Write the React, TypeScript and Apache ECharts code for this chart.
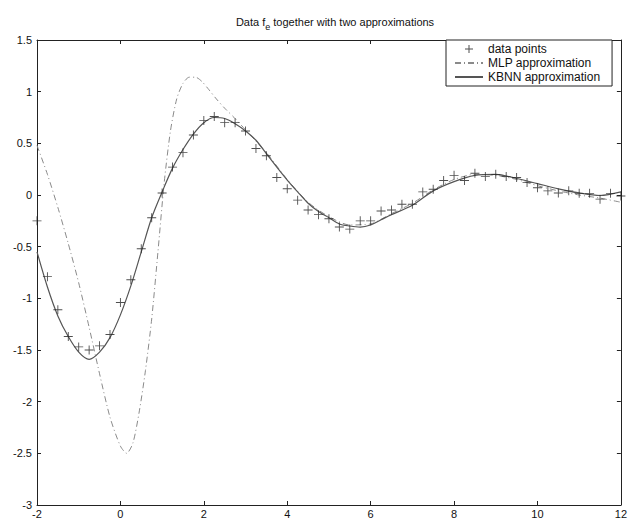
import React, { useEffect, useRef } from "react";
import * as echarts from "echarts";

// Axis ranges / ticks
const xMin = -2;
const xMax = 12;
const xStep = 2;
const yMin = -3;
const yMax = 1.5;
const yStep = 0.5;

// Data points (+ markers)
const dataX = [
  -2, -1.75, -1.5, -1.25, -1, -0.75, -0.5, -0.25, 0, 0.25, 0.5, 0.75, 1, 1.25, 1.5, 1.75,
  2, 2.25, 2.5, 2.75, 3, 3.25, 3.5, 3.75, 4, 4.25, 4.5, 4.75, 5, 5.25, 5.5, 5.75,
  6, 6.25, 6.5, 6.75, 7, 7.25, 7.5, 7.75, 8, 8.25, 8.5, 8.75, 9, 9.25, 9.5, 9.75,
  10, 10.25, 10.5, 10.75, 11, 11.25, 11.5, 11.75, 12,
];
const dataY = [
  -0.25, -0.79, -1.11, -1.37, -1.47, -1.5, -1.46, -1.35, -1.04, -0.82, -0.52, -0.22, 0.02, 0.27, 0.41, 0.58,
  0.72, 0.76, 0.7, 0.7, 0.62, 0.45, 0.38, 0.17, 0.06, -0.05, -0.145, -0.19, -0.23, -0.31, -0.33, -0.25,
  -0.25, -0.155, -0.145, -0.09, -0.09, 0.03, 0.055, 0.14, 0.19, 0.14, 0.21, 0.18, 0.2, 0.18, 0.17, 0.12,
  0.07, 0.04, 0.02, 0.04, 0.016, 0.016, -0.04, 0.016, -0.01,
];

// MLP approximation (dash-dot)
const mlpX = [
  -2, -1.75, -1.5, -1.25, -1, -0.75, -0.5, -0.25, 0, 0.15, 0.3, 0.45, 0.6, 0.75, 0.9, 1.05,
  1.2, 1.35, 1.5, 1.65, 1.8, 1.95, 2.1, 2.3, 2.5, 2.75, 3, 3.5, 4, 4.5, 5, 5.5, 6, 6.5,
  7, 7.5, 8, 8.5, 9, 9.5, 10, 10.5, 11, 11.5, 12,
];
const mlpY = [
  0.48, 0.2, -0.12, -0.47, -0.85, -1.28, -1.73, -2.15, -2.43, -2.5, -2.4, -2.1, -1.7, -1.2, -0.55, 0.12,
  0.62, 0.93, 1.08, 1.14, 1.14, 1.1, 1.03, 0.93, 0.84, 0.74, 0.63, 0.41, 0.15, -0.07, -0.21, -0.29, -0.28, -0.18,
  -0.08, 0.05, 0.15, 0.2, 0.19, 0.15, 0.09, 0.04, 0.0, -0.03, -0.07,
];

// KBNN approximation (solid)
const kbnnX = [
  -2, -1.75, -1.5, -1.25, -1, -0.75, -0.5, -0.25, 0, 0.25, 0.5, 0.75, 1, 1.25, 1.5, 1.75,
  2, 2.25, 2.5, 2.75, 3, 3.25, 3.5, 3.75, 4, 4.25, 4.5, 4.75, 5, 5.25, 5.5, 5.75,
  6, 6.25, 6.5, 7, 7.5, 8, 8.5, 9, 9.5, 10, 10.5, 11, 11.5, 12,
];
const kbnnY = [
  -0.55, -0.89, -1.17, -1.37, -1.52, -1.59, -1.52, -1.38, -1.16, -0.88, -0.55, -0.22, 0.03, 0.26, 0.44, 0.59,
  0.7, 0.75, 0.74, 0.69, 0.62, 0.53, 0.4, 0.27, 0.145, 0.03, -0.08, -0.16, -0.22, -0.28, -0.3, -0.31,
  -0.29, -0.24, -0.19, -0.1, 0.04, 0.13, 0.19, 0.2, 0.16, 0.11, 0.06, 0.02, -0.005, 0.03,
];

const FONT = "'Liberation Sans', Arial, Helvetica, sans-serif";
const PLUS = "path://M4.5,0L5.5,0L5.5,4.5L10,4.5L10,5.5L5.5,5.5L5.5,10L4.5,10L4.5,5.5L0,5.5L0,4.5L4.5,4.5Z";
const LEGEND_PLUS =
  "path://M0,0L0.01,0L0,0.01Z M28,12L27.99,12L28,11.99Z M13.5,2L14.5,2L14.5,5.5L18,5.5L18,6.5L14.5,6.5L14.5,10L13.5,10L13.5,6.5L10,6.5L10,5.5L13.5,5.5Z";
const MLP_COLOR = "#8a8a8a";
const KBNN_COLOR = "#555";
const DATA_COLOR = "#222";

function pairs(xs: number[], ys: number[]) {
  return xs.map((x, i) => [x, ys[i]]);
}

export default function App() {
  const ref = useRef<HTMLDivElement>(null);
  useEffect(() => {
    document.body.style.margin = "0";
    const chart = echarts.init(ref.current!, null, { renderer: "svg" });
    const axisCommon = {
      axisLine: { show: true, onZero: false, lineStyle: { color: "#222", width: 1 } },
      axisTick: { show: true, inside: true, length: 4, lineStyle: { color: "#222" } },
      splitLine: { show: false },
    };
    chart.setOption({
      animation: false,
      backgroundColor: "#fff",
      textStyle: { fontFamily: FONT },
      title: {
        text: "Data f{sub|e} together with two approximations",
        left: 330,
        top: 8,
        textAlign: "center",
        textStyle: {
          fontFamily: FONT,
          fontSize: 11,
          fontWeight: "normal",
          color: "#111",
          rich: {
            sub: { fontFamily: FONT, fontSize: 9, color: "#111", padding: [9, 0, 0, 0] },
          },
        },
      },
      legend: {
        orient: "vertical",
        left: 446,
        top: 40,
        padding: [3, 12, 3, 8],
        itemGap: 2,
        itemWidth: 28,
        itemHeight: 12,
        backgroundColor: "#fff",
        borderColor: "#222",
        borderWidth: 1,
        borderRadius: 0,
        textStyle: { fontFamily: FONT, fontSize: 12, color: "#111" },
        data: [
          { name: "data points", icon: LEGEND_PLUS, itemStyle: { color: DATA_COLOR } },
          { name: "MLP approximation", itemStyle: { opacity: 0 } },
          { name: "KBNN approximation", itemStyle: { opacity: 0 } },
        ],
      },
      grid: { left: 37, right: 8, top: 40, bottom: 20, containLabel: false },
      xAxis: [
        {
          type: "value",
          min: xMin,
          max: xMax,
          interval: xStep,
          position: "bottom",
          ...axisCommon,
          axisLabel: { color: "#111", fontSize: 11, fontFamily: FONT, margin: 3 },
        },
        {
          type: "value",
          min: xMin,
          max: xMax,
          interval: xStep,
          position: "top",
          ...axisCommon,
          axisLabel: { show: false },
        },
      ],
      yAxis: [
        {
          type: "value",
          min: yMin,
          max: yMax,
          interval: yStep,
          position: "left",
          ...axisCommon,
          axisLabel: { color: "#111", fontSize: 11, fontFamily: FONT, margin: 5 },
        },
        {
          type: "value",
          min: yMin,
          max: yMax,
          interval: yStep,
          position: "right",
          ...axisCommon,
          axisLabel: { show: false },
        },
      ],
      series: [
        {
          name: "data points",
          type: "scatter",
          symbol: PLUS,
          symbolSize: 9,
          color: DATA_COLOR,
          itemStyle: { color: DATA_COLOR },
          data: pairs(dataX, dataY),
          z: 3,
        },
        {
          name: "MLP approximation",
          type: "line",
          symbol: "none",
          smooth: 0.25,
          color: MLP_COLOR,
          itemStyle: { color: MLP_COLOR },
          lineStyle: { color: MLP_COLOR, width: 1, type: [6, 3, 1, 3] },
          data: pairs(mlpX, mlpY),
          z: 2,
        },
        {
          name: "KBNN approximation",
          type: "line",
          symbol: "none",
          smooth: 0.3,
          color: KBNN_COLOR,
          itemStyle: { color: KBNN_COLOR },
          lineStyle: { color: KBNN_COLOR, width: 1.2 },
          data: pairs(kbnnX, kbnnY),
          z: 2,
        },
      ],
    });
    return () => chart.dispose();
  }, []);
  return <div ref={ref} style={{ width: 630, height: 525, background: "#fff" }} />;
}
